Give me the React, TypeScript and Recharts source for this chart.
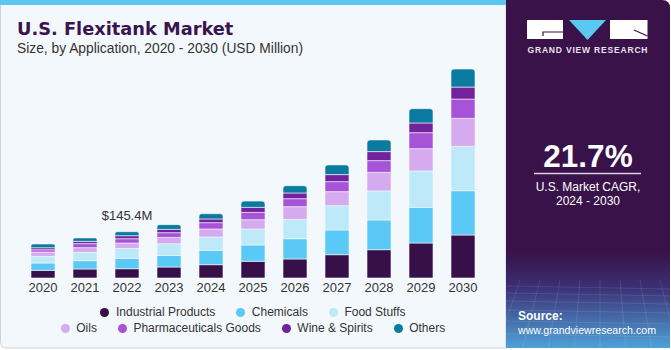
import { BarChart, Bar, XAxis, YAxis, Legend, LabelList } from "recharts"

const years = ["2020", "2021", "2022", "2023", "2024", "2025", "2026", "2027", "2028", "2029", "2030"]
const industrial = [23.9, 28.3, 29.2, 34.5, 41.8, 52.4, 59.7, 73.2, 88.9, 109.9, 135.0]
const chemicals = [23.2, 26.1, 32.3, 36.4, 44.9, 51.2, 63.7, 77.6, 93.3, 111.8, 139.1]
const foodStuffs = [20.7, 26.1, 31.4, 36.7, 42.1, 50.2, 60.6, 76.3, 91.1, 114.3, 139.1]
const oils = [13.8, 14.8, 17.0, 19.8, 25.1, 29.2, 39.9, 44.0, 58.4, 70.0, 87.9]
const pharma = [7.2, 12.6, 13.5, 14.8, 19.8, 22.9, 25.1, 31.4, 36.7, 50.2, 60.6]
const wine = [6.3, 7.2, 9.4, 10.4, 11.6, 15.7, 17.9, 22.0, 28.3, 30.5, 37.7]
const others = [11.6, 10.7, 12.6, 14.8, 16.6, 19.8, 22.9, 30.5, 36.7, 44.9, 56.5]

const labelYear = "2022"
const labelText = "$145.4M"

const SERIES = [
  { key: "industrial", name: "Industrial Products", color: "#37104a", values: industrial },
  { key: "chemicals", name: "Chemicals", color: "#5bc9f5", values: chemicals },
  { key: "foodStuffs", name: "Food Stuffs", color: "#bde9f9", values: foodStuffs },
  { key: "oils", name: "Oils", color: "#d6aaee", values: oils },
  { key: "pharma", name: "Pharmaceuticals Goods", color: "#a653d8", values: pharma },
  { key: "wine", name: "Wine & Spirits", color: "#72229c", values: wine },
  { key: "others", name: "Others", color: "#0b7aa0", values: others },
]

const data = years.map((year, i) => {
  const row: Record<string, string | number> = { year }
  for (const s of SERIES) row[s.key] = s.values[i]
  return row
})

const FONT = "'Liberation Sans', Arial, sans-serif"

function LegendRows({ payload }: any) {
  // keep the series order (recharts sorts the payload by name)
  const items = SERIES
    .filter(s => (payload ?? []).some((p: any) => p.value === s.name))
    .map(s => ({ name: s.name, color: s.color }))
  const rows = [items.slice(0, 3), items.slice(3)]
  return (
    <div style={{ height: 40, paddingTop: 6, boxSizing: "border-box", fontFamily: FONT, fontSize: 12, color: "#333" }}>
      {rows.map((row, r) => (
        <div key={r} style={{ display: "flex", justifyContent: "center", alignItems: "center", height: 16, gap: 21 }}>
          {row.map(it => (
            <div key={it.name} style={{ display: "flex", alignItems: "center", gap: 6.5 }}>
              <span style={{ width: 9, height: 9, borderRadius: "50%", background: it.color, display: "inline-block" }} />
              <span>{it.name}</span>
            </div>
          ))}
        </div>
      ))}
    </div>
  )
}

function TotalLabel({ x, y, width, index }: any) {
  if (years[index] !== labelYear) return null
  return (
    <text x={x + width / 2} y={y - 11.5} textAnchor="middle" fontFamily={FONT} fontSize={13} fill="#333">
      {labelText}
    </text>
  )
}

function Backdrop() {
  const gridY = [286, 293, 301, 310, 321, 334]
  const gridX = [500, 520, 540, 560, 580, 600, 620, 640, 660, 680]
  return (
    <svg width={671} height={350} style={{ position: "absolute", left: 0, top: 0 }}>
      <defs>
        <linearGradient id="panelGrad" x1="0" y1="0" x2="0" y2="1">
          <stop offset="0" stopColor="#381249" />
          <stop offset="0.72" stopColor="#381249" />
          <stop offset="0.82" stopColor="#3b2f74" />
          <stop offset="1" stopColor="#4fa6dc" />
        </linearGradient>
        <clipPath id="panelClip">
          <path d="M506 0 H662 Q670 0 670 8 V348 H506 Z" />
        </clipPath>
      </defs>

      {/* left panel */}
      <path d="M0.5 0 H506 V348 H7 Q0.5 348 0.5 341.5 Z" fill="#f3f8fc" stroke="#cfd3d6" strokeWidth={1} />
      <rect x={0} y={0} width={506} height={5} fill="#5bc8f0" />
      <text x={17} y={35} fontFamily="'DejaVu Sans', sans-serif" fontWeight="bold" fontSize={17.8} fill="#3a1450">
        U.S. Flexitank Market
      </text>
      <text x={17} y={53} fontFamily={FONT} fontSize={13.8} fill="#333">
        Size, by Application, 2020 - 2030 (USD Million)
      </text>

      {/* right panel */}
      <g clipPath="url(#panelClip)">
        <rect x={506} y={0} width={165} height={350} fill="url(#panelGrad)" />
        {gridY.map(y => (
          <line key={y} x1={506} x2={671} y1={y} y2={y + 3} stroke="#ffffff" strokeOpacity={0.13} strokeWidth={0.8} />
        ))}
        {gridX.map((x, i) => (
          <line key={x} x1={x} x2={x - 30 + i * 6} y1={280} y2={350} stroke="#ffffff" strokeOpacity={0.13} strokeWidth={0.8} />
        ))}
      </g>

      {/* logo */}
      <rect x={527} y={20} width={36} height={19} fill="#ffffff" />
      <polyline points="563,32 543,32 543,36" fill="none" stroke="#381249" strokeWidth={1.2} />
      <polygon points="569,20 606,20 587.5,40" fill="#5bc8f0" />
      <rect x={610} y={20} width={37.5} height={19} fill="#ffffff" />
      <line x1={634} y1={30} x2={647.5} y2={36} stroke="#381249" strokeWidth={1.2} />
      <text x={527.5} y={53} textLength={120} lengthAdjust="spacing" fontFamily={FONT} fontWeight="bold" fontSize={8.5} fill="#e8e2ee">
        GRAND VIEW RESEARCH
      </text>

      <text x={588} y={166.5} textAnchor="middle" fontFamily={FONT} fontWeight="bold" fontSize={31.5} fill="#ffffff">
        21.7%
      </text>
      <line x1={534} x2={641} y1={173.5} y2={173.5} stroke="#d9d2e0" strokeWidth={1.5} />
      <text x={588} y={191} textAnchor="middle" fontFamily={FONT} fontSize={12} fill="#ffffff">
        U.S. Market CAGR,
      </text>
      <text x={588} y={205} textAnchor="middle" fontFamily={FONT} fontSize={12} fill="#ffffff">
        2024 - 2030
      </text>

      <text x={518} y={320} fontFamily={FONT} fontWeight="bold" fontSize={12} fill="#ffffff">
        Source:
      </text>
      <text x={518} y={334} fontFamily={FONT} fontSize={11.5} fill="#ffffff" textLength={138} lengthAdjust="spacingAndGlyphs">
        www.grandviewresearch.com
      </text>
    </svg>
  )
}

export default function App() {
  return (
    <div style={{ position: "relative", width: 671, height: 350, background: "#ffffff", overflow: "hidden" }}>
      <style>{"body{margin:0}"}</style>
      <Backdrop />
      <div style={{ position: "absolute", left: 0, top: 0 }}>
        <BarChart width={506} height={350} data={data} margin={{ top: 55, right: 22, bottom: 12, left: 22 }}>
          <XAxis
            dataKey="year"
            axisLine={false}
            tickLine={false}
            tickSize={0}
            tickMargin={5}
            height={20}
            interval={0}
            tick={{ fill: "#333", fontSize: 13, fontFamily: FONT }}
          />
          <YAxis hide domain={[0, 700]} />
          <Legend verticalAlign="bottom" content={<LegendRows />} />
          {SERIES.map((s, i) => (
            <Bar
              key={s.key}
              dataKey={s.key}
              name={s.name}
              stackId="a"
              fill={s.color}
              stroke="#f3f8fc"
              strokeWidth={0.6}
              barSize={24}
              radius={i === SERIES.length - 1 ? [3, 3, 0, 0] : 0}
              isAnimationActive={false}
            >
              {i === SERIES.length - 1 && <LabelList content={<TotalLabel />} />}
            </Bar>
          ))}
        </BarChart>
      </div>
    </div>
  )
}
